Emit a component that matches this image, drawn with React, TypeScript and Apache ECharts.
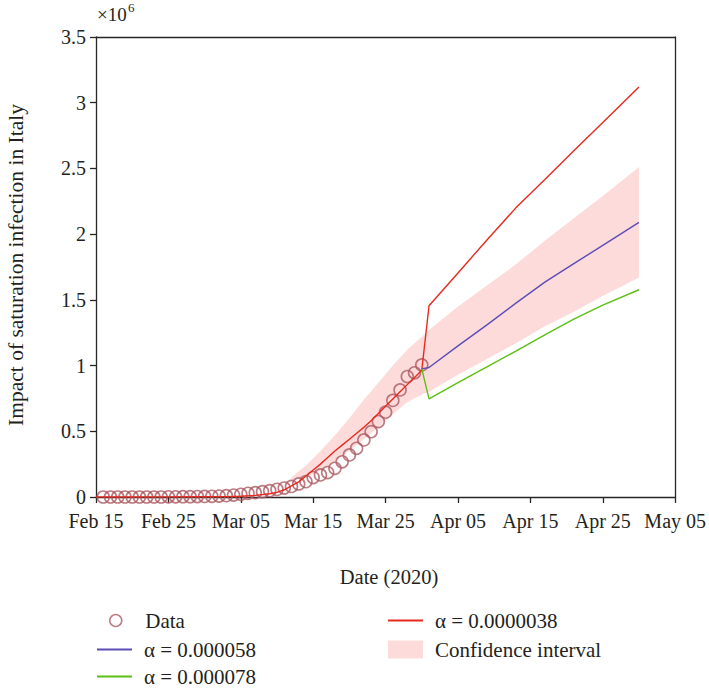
import React, { useEffect, useRef } from "react";
import * as echarts from "echarts";

// x axis: days since Feb 15, 2020 (ticks every 10 days)
const xTickLabels = ["Feb 15", "Feb 25", "Mar 05", "Mar 15", "Mar 25", "Apr 05", "Apr 15", "Apr 25", "May 05"];

// Observed data (×10^6), one value per day starting Feb 16 (day 1)
const dataFirstDay = 1;
const dataValues = [
  0, 0, 0, 0, 0, 0, 0, 0, 0, 0.001,
  0.001, 0.002, 0.002, 0.003, 0.004, 0.005, 0.007, 0.01, 0.015, 0.02,
  0.028, 0.033, 0.04, 0.048, 0.058, 0.068, 0.08, 0.099, 0.117, 0.148,
  0.168, 0.186, 0.218, 0.268, 0.32, 0.37, 0.434, 0.497, 0.574, 0.645,
  0.735, 0.815, 0.916, 0.945, 1.005,
];

// alpha = 0.0000038 (red)
const redDays = [0, 5, 10, 15, 18, 20, 22, 24, 25, 26, 27, 28, 29, 30, 31, 32, 33, 34, 35, 36, 37, 38, 39, 40, 41, 42, 43, 44, 45, 46, 50, 54, 58, 62, 66, 70, 75];
const redValues = [0, 0.0005, 0.001, 0.002, 0.003, 0.006, 0.012, 0.025, 0.035, 0.055, 0.085, 0.115, 0.16, 0.205, 0.25, 0.3, 0.35, 0.395, 0.44, 0.485, 0.53, 0.58, 0.635, 0.69, 0.745, 0.8, 0.855, 0.91, 0.965, 1.455, 1.705, 1.955, 2.2, 2.415, 2.635, 2.85, 3.12];

// alpha = 0.000058 (blue)
const blueDays = [45, 46, 50, 54, 58, 62, 66, 70, 75];
const blueValues = [0.975, 0.985, 1.15, 1.31, 1.475, 1.635, 1.775, 1.915, 2.09];

// alpha = 0.000078 (green)
const greenDays = [45, 46, 50, 54, 58, 62, 66, 70, 75];
const greenValues = [0.975, 0.746, 0.87, 0.99, 1.11, 1.234, 1.353, 1.46, 1.577];

// Confidence interval
const bandDays = [27, 29, 31, 33, 35, 37, 39, 41, 43, 45, 46, 50, 54, 58, 62, 66, 70, 75];
const bandLower = [0.13, 0.15, 0.2, 0.27, 0.35, 0.44, 0.53, 0.63, 0.72, 0.78, 0.8, 0.93, 1.05, 1.17, 1.3, 1.41, 1.53, 1.67];
const bandUpper = [0.15, 0.24, 0.35, 0.47, 0.6, 0.74, 0.87, 1.0, 1.12, 1.22, 1.27, 1.45, 1.61, 1.77, 1.95, 2.12, 2.29, 2.51];

const FONT = "'Liberation Serif', 'Times New Roman', serif";
const TXT = "#231f20";
const AX = "#262626";
const RED = "#e62a1f";
const BLUE = "#5b4cb6";
const GREEN = "#5cbf12";
const DATA_C = "#ab5a61";
const BAND = "#fddbdb";

const NAME_DATA = "Data";
const NAME_RED = "α = 0.0000038";
const NAME_BLUE = "α = 0.000058";
const NAME_GREEN = "α = 0.000078";
const NAME_BAND = "Confidence interval";

function pairs(days: number[], vals: number[]) {
  return days.map((d, i) => [d, vals[i]]);
}

export default function App() {
  const ref = useRef<HTMLDivElement>(null);
  useEffect(() => {
    const chart = echarts.init(ref.current!, undefined, { renderer: "svg" });
    const textStyle = { fontSize: 21, fontFamily: FONT, color: TXT, padding: [0, 0, 0, 7] };
    const legendBase = {
      padding: 0,
      itemWidth: 35,
      selectedMode: false,
      textStyle,
    };
    const option: any = {
      animation: false,
      backgroundColor: "#fff",
      grid: { left: 96, top: 37, width: 587, height: 460, containLabel: false },
      xAxis: [
        {
          type: "value",
          min: 0,
          max: 80,
          interval: 10,
          axisLine: { onZero: false, lineStyle: { color: AX, width: 1.3 } },
          axisTick: { length: 6, lineStyle: { color: AX, width: 1.3 } },
          axisLabel: {
            margin: 14,
            fontSize: 20,
            fontFamily: FONT,
            color: TXT,
            formatter: (v: number) => xTickLabels[Math.round(v / 10)] ?? "",
          },
          splitLine: { show: false },
        },
        {
          type: "value",
          position: "top",
          min: 0,
          max: 80,
          axisLine: { show: true, onZero: false, lineStyle: { color: AX, width: 1.3 } },
          axisTick: { show: false },
          axisLabel: { show: false },
          splitLine: { show: false },
        },
      ],
      yAxis: [
        {
          type: "value",
          min: 0,
          max: 3.5,
          interval: 0.5,
          axisLine: { show: true, onZero: false, lineStyle: { color: AX, width: 1.3 } },
          axisTick: { show: true, length: 6, lineStyle: { color: AX, width: 1.3 } },
          axisLabel: { margin: 10, fontSize: 20, fontFamily: FONT, color: TXT, formatter: (v: number) => String(v) },
          splitLine: { show: false },
        },
        {
          type: "value",
          position: "right",
          min: 0,
          max: 3.5,
          axisLine: { show: true, onZero: false, lineStyle: { color: AX, width: 1.3 } },
          axisTick: { show: false },
          axisLabel: { show: false },
          splitLine: { show: false },
        },
      ],
      legend: [
        { ...legendBase, left: 109, top: 610, itemHeight: 12, data: [{ name: NAME_DATA, icon: "circle", itemStyle: { color: "rgba(0,0,0,0)", borderColor: DATA_C, borderWidth: 1.5 } }] },
        { ...legendBase, left: 97, top: 639, itemHeight: 2, data: [{ name: NAME_BLUE, icon: "rect", itemStyle: { color: BLUE, borderWidth: 0 } }] },
        { ...legendBase, left: 97, top: 666, itemHeight: 2, data: [{ name: NAME_GREEN, icon: "rect", itemStyle: { color: GREEN, borderWidth: 0 } }] },
        { ...legendBase, left: 388, top: 610, itemHeight: 2, data: [{ name: NAME_RED, icon: "rect", itemStyle: { color: RED, borderWidth: 0 } }] },
        { ...legendBase, left: 388, top: 639, itemHeight: 18, data: [{ name: NAME_BAND, icon: "rect", itemStyle: { color: BAND, borderWidth: 0 } }] },
      ],
      graphic: [
        { type: "text", x: 97, y: 14, style: { text: "×10", font: `19px ${FONT}`, fill: TXT, verticalAlign: "middle" } },
        { type: "text", x: 128, y: 7, style: { text: "6", font: `13px ${FONT}`, fill: TXT, verticalAlign: "middle" } },
        {
          type: "text",
          x: 16,
          y: 265,
          rotation: Math.PI / 2,
          style: { text: "Impact of saturation infection in Italy", font: `21.5px ${FONT}`, fill: TXT, align: "center", verticalAlign: "middle" },
        },
        { type: "text", x: 389, y: 577, style: { text: "Date (2020)", font: `20.5px ${FONT}`, fill: TXT, align: "center", verticalAlign: "middle" } },
      ],
      series: [
        {
          name: NAME_BAND,
          type: "custom",
          z: 1,
          itemStyle: { color: BAND },
          data: [[bandDays[0], bandLower[0]]],
          encode: { x: 0, y: 1 },
          renderItem: (params: any, api: any) => {
            const pts: number[][] = [];
            for (let i = 0; i < bandDays.length; i++) pts.push(api.coord([bandDays[i], bandUpper[i]]));
            for (let i = bandDays.length - 1; i >= 0; i--) pts.push(api.coord([bandDays[i], bandLower[i]]));
            return { type: "polygon", shape: { points: pts }, style: { fill: BAND, stroke: null } };
          },
        },
        {
          name: NAME_DATA,
          type: "scatter",
          z: 2,
          symbol: "circle",
          symbolSize: 12,
          itemStyle: { color: "rgba(0,0,0,0)", borderColor: DATA_C, borderWidth: 1.6 },
          data: dataValues.map((v, i) => [dataFirstDay + i, v]),
        },
        {
          name: NAME_RED,
          type: "line",
          z: 3,
          symbol: "none",
          color: RED,
          lineStyle: { color: RED, width: 1.4 },
          data: pairs(redDays, redValues),
        },
        {
          name: NAME_BLUE,
          type: "line",
          z: 3,
          symbol: "none",
          color: BLUE,
          lineStyle: { color: BLUE, width: 1.4 },
          data: pairs(blueDays, blueValues),
        },
        {
          name: NAME_GREEN,
          type: "line",
          z: 3,
          symbol: "none",
          color: GREEN,
          lineStyle: { color: GREEN, width: 1.4 },
          data: pairs(greenDays, greenValues),
        },
      ],
    };
    chart.setOption(option);
    return () => chart.dispose();
  }, []);
  return <div ref={ref} style={{ position: "absolute", left: 0, top: 0, width: 709, height: 688, background: "#fff" }} />;
}
